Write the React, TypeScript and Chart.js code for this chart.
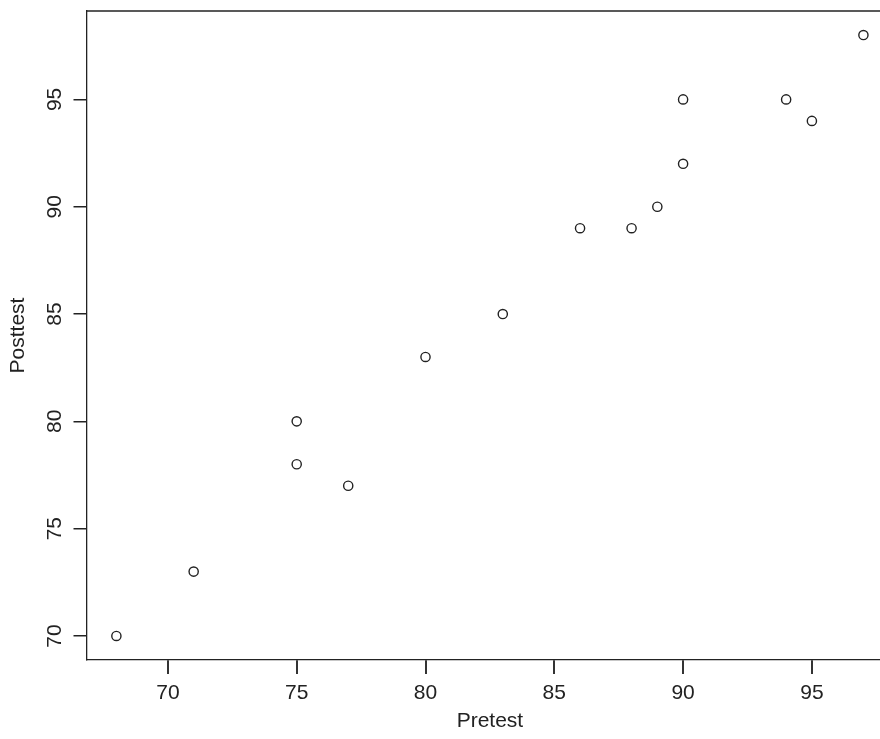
import React, { useEffect, useRef } from "react";
import { Chart, registerables } from "chart.js";

Chart.register(...registerables);

const pretest = [68, 71, 75, 75, 77, 80, 83, 86, 88, 89, 90, 90, 94, 95, 97];
const posttest = [70, 73, 78, 80, 77, 83, 85, 89, 89, 90, 92, 95, 95, 94, 98];
const xTicks = [70, 75, 80, 85, 90, 95];
const yTicks = [70, 75, 80, 85, 90, 95];
const xLimits = [66.84, 98.16];
const yLimits = [68.88, 99.12];
const xTitle = "Pretest";
const yTitle = "Posttest";

const INK = "#222222";
const FONT = "'Liberation Sans', Arial, Helvetica, sans-serif";

const topBorder = {
  id: "topBorder",
  afterDraw(chart: any) {
    const { ctx, chartArea } = chart;
    ctx.save();
    ctx.strokeStyle = INK;
    ctx.lineWidth = 1.3;
    ctx.beginPath();
    ctx.moveTo(chartArea.left, chartArea.top);
    ctx.lineTo(chartArea.right, chartArea.top);
    ctx.stroke();
    ctx.restore();
  },
};

export default function App() {
  const ref = useRef<HTMLCanvasElement | null>(null);

  useEffect(() => {
    if (!ref.current) return;
    const chart = new Chart(ref.current, {
      type: "scatter",
      data: {
        datasets: [
          {
            data: pretest.map((x, i) => ({ x, y: posttest[i] })),
            pointStyle: "circle",
            pointRadius: 4.6,
            pointHoverRadius: 4.6,
            pointBorderWidth: 1.4,
            pointBackgroundColor: "rgba(0,0,0,0)",
            pointBorderColor: INK,
            showLine: false,
          },
        ],
      },
      plugins: [topBorder],
      options: {
        responsive: false,
        animation: false,
        events: [],
        layout: { padding: { top: 11, right: 12.7, left: 0, bottom: 0 } },
        plugins: {
          legend: { display: false },
          tooltip: { enabled: false },
        },
        scales: {
          x: {
            type: "linear",
            position: "bottom",
            min: xLimits[0],
            max: xLimits[1],
            afterBuildTicks: (s: any) => {
              s.ticks = xTicks.map((v) => ({ value: v }));
            },
            afterFit: (s: any) => {
              s.height = 79;
              s.paddingLeft = 0;
              s.paddingRight = 0;
            },
            grid: {
              display: true,
              drawOnChartArea: false,
              drawTicks: true,
              tickLength: 14,
              tickColor: "#333333",
              tickWidth: 2,
              color: "#333333",
              lineWidth: 2,
            },
            border: { display: true, color: INK, width: 1.3 },
            ticks: {
              color: INK,
              font: { family: FONT, size: 21 },
              padding: 7,
              maxRotation: 0,
              minRotation: 0,
              autoSkip: false,
            },
            title: {
              display: true,
              text: xTitle,
              color: INK,
              font: { family: FONT, size: 21 },
              padding: { top: 0, bottom: 5 },
            },
          },
          y: {
            type: "linear",
            position: "left",
            min: yLimits[0],
            max: yLimits[1],
            afterBuildTicks: (s: any) => {
              s.ticks = yTicks.map((v) => ({ value: v }));
            },
            afterFit: (s: any) => {
              s.width = 86.5;
              s.paddingTop = 0;
              s.paddingBottom = 0;
            },
            grid: {
              display: true,
              drawOnChartArea: false,
              drawTicks: true,
              tickLength: 13,
              tickColor: INK,
              tickWidth: 1.5,
              color: INK,
              lineWidth: 1.5,
            },
            border: { display: true, color: INK, width: 1.3 },
            ticks: {
              color: INK,
              font: { family: FONT, size: 21 },
              padding: 7,
              minRotation: 90,
              maxRotation: 90,
              crossAlign: "center",
              autoSkip: false,
            },
            title: {
              display: true,
              text: yTitle,
              color: INK,
              font: { family: FONT, size: 21 },
              padding: { top: 6, bottom: 0 },
            },
          },
        },
      },
    });
    return () => chart.destroy();
  }, []);

  return (
    <div
      style={{
        position: "fixed",
        left: 0,
        top: 0,
        width: 880,
        height: 739,
        overflow: "hidden",
        background: "#ffffff",
      }}
    >
      <canvas ref={ref} width={906} height={739} style={{ display: "block", width: 906, height: 739 }} />
    </div>
  );
}
